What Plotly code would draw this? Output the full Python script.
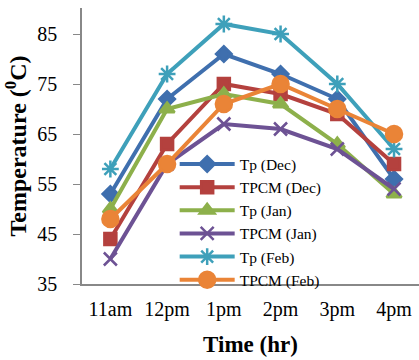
import plotly.graph_objects as go

categories = ["11am", "12pm", "1pm", "2pm", "3pm", "4pm"]
tp_dec = [53, 72, 81, 77, 72, 56]
tpcm_dec = [44, 63, 75, 73, 69, 59]
tp_jan = [50, 70, 73, 71, 63, 53]
tpcm_jan = [40, 59, 67, 66, 62, 54]
tp_feb = [58, 77, 87, 85, 75, 62]
tpcm_feb = [48, 59, 71, 75, 70, 65]

series = [
    ("Tp (Dec)", tp_dec, "#3F6FAE", "diamond", 12),
    ("TPCM (Dec)", tpcm_dec, "#B4413E", "square", 12),
    ("Tp (Jan)", tp_jan, "#8DB04B", "triangle-up", 13),
    ("TPCM (Jan)", tpcm_jan, "#6D5294", "x-thin", 13),
    ("Tp (Feb)", tp_feb, "#3EA0BA", "asterisk", 14),
    ("TPCM (Feb)", tpcm_feb, "#EA8437", "circle", 16),
]

fig = go.Figure()
for name, vals, color, sym, size in series:
    fig.add_trace(go.Scatter(
        x=categories, y=vals, name=name, mode="lines+markers",
        line=dict(color=color, width=4),
        marker=dict(symbol=sym, size=size, color=color,
                    line=dict(color=color, width=2.5)),
    ))

serif = "Times New Roman, Liberation Serif, serif"
fig.update_layout(
    width=419, height=360,
    margin=dict(l=82, r=0, t=8, b=76),
    paper_bgcolor="white", plot_bgcolor="white",
    font=dict(family=serif, size=20, color="black"),
    showlegend=True,
    legend=dict(x=0.275, y=0.225, xanchor="left", yanchor="middle",
                bgcolor="rgba(255,255,255,0)", font=dict(family=serif, size=15.5, color="black"),
                itemwidth=55, tracegroupgap=0),
    xaxis=dict(range=[-0.5, 5.44], showline=True, linecolor="#888888", linewidth=1.5,
               showgrid=False, ticks="", ticklabelstandoff=6,
               tickfont=dict(family=serif, size=20),
               title=dict(text="<b>Time (hr)</b>", font=dict(family=serif, size=23), standoff=16)),
    yaxis=dict(range=[35, 90.2], tickvals=[35, 45, 55, 65, 75, 85], showline=True,
               linecolor="#888888", linewidth=1.5, showgrid=False, ticks="outside",
               ticklen=7, tickcolor="#888888", zeroline=False, ticklabelstandoff=12,
               tickfont=dict(family=serif, size=20),
               title=dict(text="<b>Temperature (<sup>0</sup>C)</b>", font=dict(family=serif, size=24), standoff=4)),
)

fig.write_html("out.html")
